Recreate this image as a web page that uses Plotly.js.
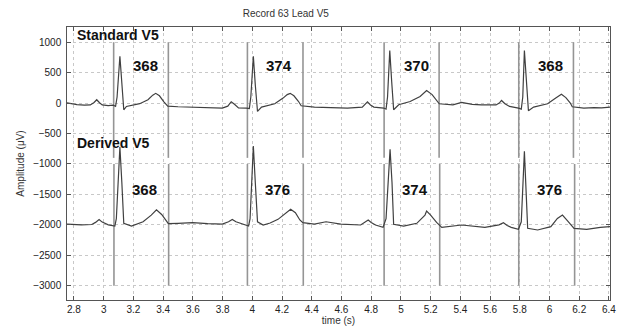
<!DOCTYPE html>
<html>
<head>
<meta charset="utf-8">
<script src="https://cdn.plot.ly/plotly-3.0.1.min.js"></script>
<style>html,body{margin:0;padding:0;background:#fff;}#chart{width:619px;height:327px;}</style>
</head>
<body>
<div id="chart"></div>
<script>
// Standard V5 trace (time s, amplitude µV)
var stdTime = [2.753,2.78,2.82,2.87,2.91,2.935,2.953,2.972,2.99,3.03,3.065,3.08,3.09,3.109,3.122,3.135,3.153,3.2,3.242,3.298,3.33,3.35,3.375,3.405,3.431,3.5,3.6,3.7,3.798,3.835,3.858,3.88,3.907,3.96,3.98,3.99,4.007,4.02,4.035,4.062,4.1,4.151,4.207,4.235,4.255,4.28,4.31,4.329,4.418,4.5,4.64,4.74,4.762,4.775,4.795,4.818,4.885,4.9,4.91,4.925,4.938,4.951,4.985,5.062,5.129,5.173,5.21,5.24,5.258,5.275,5.35,5.408,5.48,5.542,5.64,5.662,5.677,5.7,5.731,5.791,5.81,5.82,5.831,5.845,5.858,5.893,5.94,5.987,6.042,6.08,6.11,6.14,6.153,6.231,6.3,6.35,6.41];
var stdValues = [5,-10,-25,-35,-30,10,55,5,-30,-42,-35,-55,100,770,300,-110,-55,-35,-10,55,130,160,120,20,-50,-60,-70,-75,-82,-50,22,-20,-80,-82,-90,100,770,300,-137,-66,-45,-11,82,140,160,120,30,-44,-66,-72,-82,-66,-20,20,-30,-66,-82,-100,100,862,350,-110,-28,26,108,207,140,40,-11,-15,-30,10,-20,-28,-30,0,43,-10,-55,-82,-100,100,865,350,-125,-66,-40,-11,82,145,90,0,-60,-82,-75,-80,-66];

// Derived V5 trace (time s, amplitude µV)
var derTime = [2.753,2.8,2.85,2.92,2.945,2.969,2.99,3.031,3.075,3.085,3.109,3.122,3.135,3.187,3.265,3.32,3.355,3.39,3.42,3.435,3.5,3.598,3.7,3.798,3.84,3.865,3.89,3.931,3.975,3.985,4.007,4.02,4.035,4.073,4.12,4.173,4.218,4.258,4.29,4.32,4.34,4.418,4.496,4.596,4.729,4.76,4.78,4.8,4.829,4.88,4.9,4.927,4.94,4.951,5.018,5.107,5.162,5.173,5.2,5.24,5.262,5.275,5.409,5.565,5.66,5.69,5.715,5.742,5.791,5.81,5.831,5.843,5.853,5.92,6.009,6.053,6.087,6.12,6.165,6.25,6.342,6.41];
var derValues = [-1990,-1995,-2000,-1995,-1960,-1912,-1955,-2000,-2020,-1900,-720,-1300,-1975,-2020,-1950,-1840,-1755,-1830,-1940,-1980,-1975,-1965,-1980,-1987,-1950,-1912,-1950,-1990,-2020,-1900,-705,-1300,-1950,-2003,-1970,-1910,-1823,-1745,-1800,-1920,-1965,-1987,-1950,-1987,-2003,-1960,-1921,-1960,-2003,-2041,-1900,-760,-1300,-1990,-2020,-1975,-1840,-1775,-1840,-1960,-2003,-2041,-2003,-2041,-2000,-1965,-2010,-2041,-2074,-1950,-793,-1400,-2057,-2085,-2030,-1895,-1840,-1930,-2057,-2074,-2041,-2030];

// QT interval markers
var qtOnsetStd = [3.067, 3.967, 4.887, 5.793];
var qtMsStd = [368, 374, 370, 368];
var qtOnsetDer = [3.069, 3.967, 4.887, 5.793];
var qtMsDer = [368, 376, 374, 376];

var seriesLabels = ["Standard V5", "Derived V5"];
var chartTitle = "Record 63 Lead V5";
var xTitle = "time (s)";
var yTitle = "Amplitude (\u03bcV)";

function markerLines(onsets, ms, yTop, yBot) {
  var xs = [], ys = [];
  for (var i = 0; i < onsets.length; i++) {
    var a = onsets[i], b = onsets[i] + ms[i] / 1000;
    xs.push(a, a, null, b, b, null);
    ys.push(yTop, yBot, null, yTop, yBot, null);
  }
  return {x: xs, y: ys};
}
var mStd = markerLines(qtOnsetStd, qtMsStd, 1000, -900);
var mDer = markerLines(qtOnsetDer, qtMsDer, -1000, -3000);

var lineStyle = {color: '#959595', width: 1.6};
var traceStyle = {color: '#404040', width: 1.2};

var data = [
  {x: mStd.x, y: mStd.y, mode: 'lines', line: lineStyle, hoverinfo: 'skip', connectgaps: false},
  {x: mDer.x, y: mDer.y, mode: 'lines', line: lineStyle, hoverinfo: 'skip', connectgaps: false},
  {x: stdTime, y: stdValues, mode: 'lines', line: traceStyle, name: seriesLabels[0]},
  {x: derTime, y: derValues, mode: 'lines', line: traceStyle, name: seriesLabels[1]}
];

var ann = [];
var bold = {family: 'Arial, Liberation Sans, sans-serif', size: 14, color: '#111'};
ann.push({x: 2.807, y: 1120, xref: 'x', yref: 'y', text: '<b>' + seriesLabels[0] + '</b>', showarrow: false, xanchor: 'left', yanchor: 'middle', font: bold});
ann.push({x: 2.807, y: -660, xref: 'x', yref: 'y', text: '<b>' + seriesLabels[1] + '</b>', showarrow: false, xanchor: 'left', yanchor: 'middle', font: bold});
var numFont = {family: 'Arial, Liberation Sans, sans-serif', size: 15, color: '#111'};
for (var i = 0; i < qtOnsetStd.length; i++) {
  ann.push({x: qtOnsetStd[i] + 0.215, y: 615, xref: 'x', yref: 'y', text: '<b>' + qtMsStd[i] + '</b>', showarrow: false, xanchor: 'center', yanchor: 'middle', font: numFont});
  ann.push({x: qtOnsetDer[i] + 0.205, y: -1425, xref: 'x', yref: 'y', text: '<b>' + qtMsDer[i] + '</b>', showarrow: false, xanchor: 'center', yanchor: 'middle', font: numFont});
}

var tickFont = {family: 'Arial, Liberation Sans, sans-serif', size: 10, color: '#222'};
var layout = {
  width: 619, height: 327,
  margin: {l: 67, r: 9, t: 27, b: 27, pad: 0},
  paper_bgcolor: '#fff', plot_bgcolor: '#fff',
  showlegend: false,
  title: {text: chartTitle, x: 0.403, xref: 'paper', xanchor: 'center', y: 0.96, yref: 'container', yanchor: 'middle', font: {family: 'Arial, Liberation Sans, sans-serif', size: 10, color: '#333'}},
  xaxis: {
    range: [2.753, 6.407], tick0: 2.8, dtick: 0.2, ticks: 'inside', ticklen: 4, tickcolor: '#555',
    showline: true, linecolor: '#555', linewidth: 1, mirror: 'ticks',
    showgrid: true, gridcolor: '#c8c8c8', griddash: 'dot', gridwidth: 1, zeroline: false,
    tickfont: tickFont, ticklabeloverflow: 'allow',
    title: {text: xTitle, standoff: 2, font: {family: 'Arial, Liberation Sans, sans-serif', size: 10, color: '#333'}}
  },
  yaxis: {
    range: [-3235, 1250], tick0: 0, dtick: 500, ticks: 'inside', ticklen: 4, tickcolor: '#555',
    showline: true, linecolor: '#555', linewidth: 1, mirror: 'ticks',
    showgrid: true, gridcolor: '#c8c8c8', griddash: 'dot', gridwidth: 1, zeroline: false,
    tickfont: tickFont, ticksuffix: ' ',
    title: {text: yTitle, standoff: 6, font: {family: 'Arial, Liberation Sans, sans-serif', size: 10, color: '#333'}}
  },
  annotations: ann
};

Plotly.newPlot('chart', data, layout, {staticPlot: true, displayModeBar: false});
</script>
</body>
</html>
